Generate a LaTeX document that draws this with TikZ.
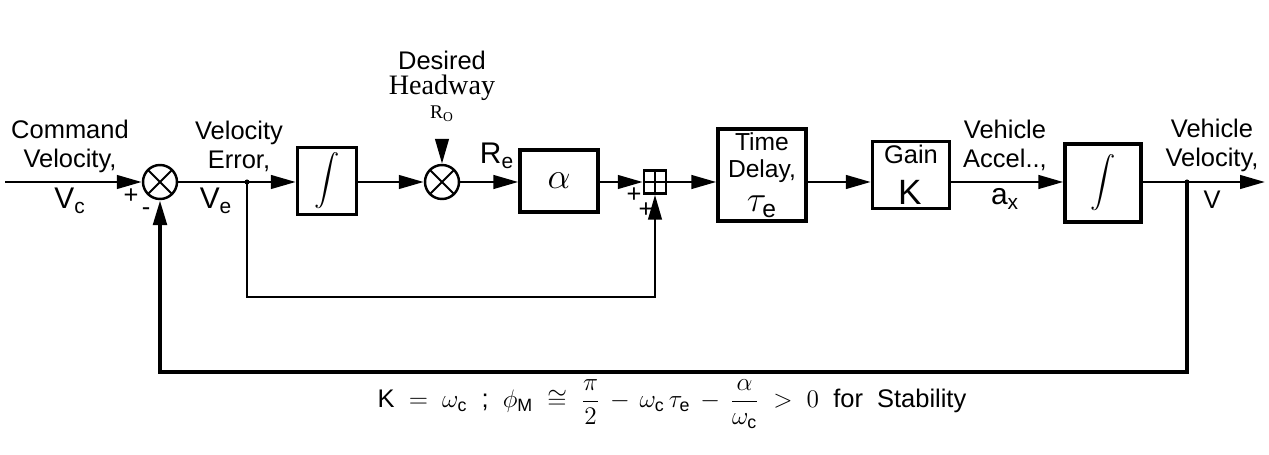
\documentclass[tikz,border=0pt]{standalone}
\usepackage{amsmath}
\usepackage{fontspec}
\setmainfont{Liberation Sans}
\newfontfamily\headwayfont{Liberation Serif}
\newcommand\sigsize{\fontsize{17}{19}\selectfont}
\newcommand\symsize{\fontsize{20}{22}\selectfont}
\usetikzlibrary{arrows.meta,positioning,calc}
\tikzset{%
  block/.style={draw,line width=1.9pt,align=center,inner sep=2pt},
  sumx/.style={draw,circle,line width=1.4pt,minimum size=0.68cm,inner sep=0pt,
    path picture={\draw[line width=1.2pt] (path picture bounding box.north west) -- (path picture bounding box.south east)
      (path picture bounding box.north east) -- (path picture bounding box.south west);}},
  sumplus/.style={draw,line width=1.4pt,minimum width=0.44cm,minimum height=0.46cm,inner sep=0pt,
    path picture={\draw[line width=1pt] (path picture bounding box.north) -- (path picture bounding box.south)
      (path picture bounding box.west) -- (path picture bounding box.east);}},
  arrow/.style={-{Triangle[length=5mm,width=2.7mm]}, line width=1.6pt},
  lbl/.style={align=center,inner sep=0pt}
}

\begin{document}
\begin{tikzpicture}[x=0.02cm,y=-0.02cm,font=\fontsize{14.5}{16.5}\selectfont]
\useasboundingbox (0,0) rectangle (1269,455);

% Blocks along the main line
\node[sumx] (sumv) at (160,182) {};
\node[block,minimum width=1.18cm,minimum height=1.34cm] (int1) at (327,181) {$\displaystyle\int$};
\node[sumx] (sumr) at (442,182) {};
\node[block,minimum width=1.56cm,minimum height=1.24cm,font=\symsize] (alpha) at (559,181) {$\alpha$};
\node[sumplus] (sump) at (655,182) {};
\node[block,minimum width=1.76cm,minimum height=1.76cm,font=\fontsize{14}{15.5}\selectfont] (delay) at (762,175) {Time\\Delay,\\[4pt]{\symsize$\tau_{\textnormal{e}}$}};
\node[block,minimum width=1.54cm,minimum height=1.24cm,align=left] (gain) at (911,175) {Gain\\[7pt]\hspace{8pt}{\symsize K}};
\node[block,minimum width=1.52cm,minimum height=1.56cm] (int2) at (1103,183) {$\displaystyle\int$};

% Ends and pick-off points
\coordinate (vin) at (5,182);
\coordinate (vout) at (1265,182);
\coordinate (etap) at (247,182);
\coordinate (vtap) at (1187,182);

% Signal labels
\node[lbl] (cmd) at (70,146) {Command\\Velocity,};
\node[lbl,font=\sigsize] (vc) at (70,201) {V$_{\textnormal{c}}$};
\node[lbl] (pv) at (131,196) {+};
\node[lbl] (mv) at (146,212) {-};
\node[lbl] (err) at (239,146) {Velocity\\Error,};
\node[lbl,font=\sigsize] (ve) at (216,201) {V$_{\textnormal{e}}$};
\node[lbl] (des) at (442,60) {Desired};
\node[lbl,font=\headwayfont\fontsize{16}{18}\selectfont] (hdw) at (442,88) {Headway};
\node[lbl,font=\headwayfont\fontsize{11}{13}\selectfont] (ro) at (442,114) {R\textsubscript{O}};
\node[lbl,font=\sigsize] (re) at (497,156) {R$_{\textnormal{e}}$};
\node[lbl] (pa) at (634,195) {+};
\node[lbl] (pb) at (646,210) {+};
\node[lbl] (acc) at (1005,145) {Vehicle\\Accel..,};
\node[lbl,font=\sigsize] (ax) at (1005,199) {a$_{\textnormal{x}}$};
\node[lbl] (vel) at (1212,145) {Vehicle\\Velocity,};
\node[lbl] (vv) at (1212,200) {V};

% Forward path
\draw[arrow] (vin) -- (sumv);
\draw[arrow] (sumv) -- (int1.west |- sumv);
\draw[arrow] (int1.east |- sumr) -- (sumr);
\draw[arrow] (sumr) -- (alpha.west |- sumr);
\draw[arrow] (alpha.east |- sump) -- (sump);
\draw[arrow] (sump) -- (delay.west |- sump);
\draw[arrow] (delay.east |- sump) -- (gain.west |- sump);
\draw[arrow] (gain.east |- sump) -- (int2.west |- sump);
\draw[arrow] (int2.east |- vout) -- (vout);
\draw[arrow,shorten <=4mm] (ro) -- (sumr);

% Loops
\draw[arrow] (etap) -- ++(0,115) -| (sump.south);
\draw[arrow,line width=2.3pt] (vtap) -- ++(0,190) -| (sumv.south);
\fill (etap) circle (2.5);
\fill (vtap) circle (2.5);

% Stability condition
\node[lbl] (cond) at (672,404) {K \ $=$ \ $\omega_{\textnormal{c}}$ \ ; \ $\phi_{\textnormal{M}} \;\cong\; \dfrac{\pi}{2} \,-\, \omega_{\textnormal{c}}\,\tau_{\textnormal{e}} \,-\, \dfrac{\alpha}{\omega_{\textnormal{c}}} \;>\; 0$ \ for \ Stability};

\end{tikzpicture}
\end{document}
